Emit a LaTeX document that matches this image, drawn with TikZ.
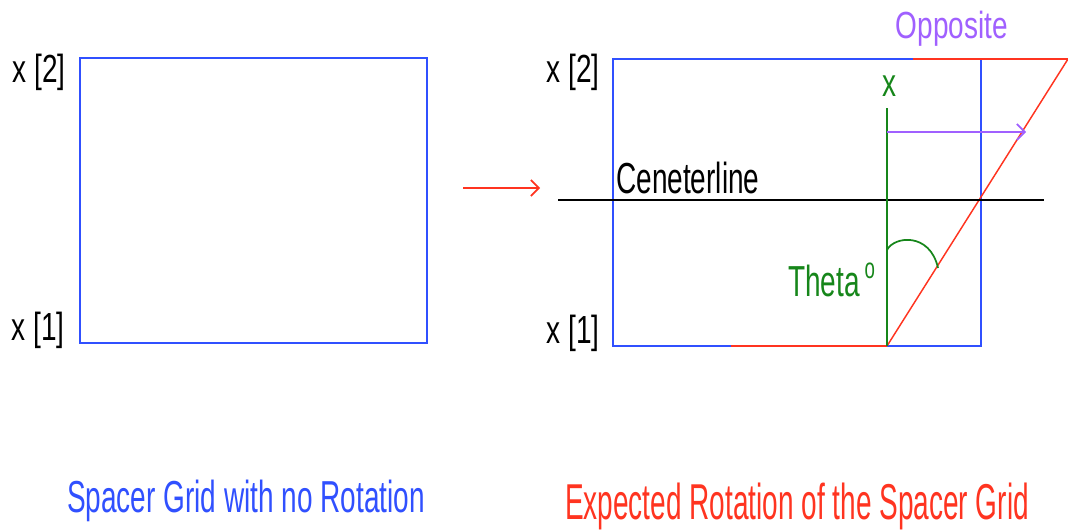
\documentclass[tikz,border=0pt]{standalone}
\usepackage{graphicx}
\usepackage{fontspec}
\setmainfont{Liberation Sans}
\usetikzlibrary{arrows.meta,positioning,calc}
\definecolor{GridBlue}{HTML}{3050FF}
\definecolor{TurnRed}{HTML}{FF3420}
\definecolor{AngleGreen}{HTML}{16861A}
\definecolor{OppPurple}{HTML}{A060FF}
\tikzset{
  gridline/.style={line width=1.5pt, draw=GridBlue},
  turnline/.style={line width=1.5pt, draw=TurnRed},
  barb/.style={-{Straight Barb[length=6pt,width=12pt]}},
  lbl/.style={inner sep=0pt, font=\fontsize{21}{24}\selectfont},
}
\newcommand{\tall}[2][1.5]{\scalebox{1}[#1]{#2}}

\begin{document}
\begin{tikzpicture}[x=0.75pt,y=-0.75pt]
    \useasboundingbox (0,0) rectangle (1068,530);
    % grid before rotation
    \coordinate (a1) at (80,343);
    \coordinate (a2) at (427,58);
    \draw[gridline] (a1) rectangle (a2);
    \node[lbl] (a2lab) at (39,72) {\tall[1.4]{x [2]}};
    \node[lbl] (a1lab) at (38,330) {\tall[1.4]{x [1]}};
    \node[lbl,text=GridBlue] (acap) at (246,501) {\tall[1.6]{Spacer Grid with no Rotation}};

    % arrow between the two
    \coordinate (go1) at (463,188);
    \coordinate (go2) at (540,188);
    \draw[barb,line width=1.2pt,draw=TurnRed] (go1) -- (go2);

    % grid after rotation
    \coordinate (b1) at (613,346);
    \coordinate (b2) at (981,59);
    \coordinate (rb1) at (731,346);
    \coordinate (foot) at (887,346);
    \coordinate (rt1) at (913,59);
    \coordinate (rt2) at (1068,59);
    \draw[gridline] (b1) rectangle (b2);
    \draw[turnline] (rb1) -- (foot);
    \draw[turnline] (rt1) -- (rt2);
    \draw[line width=1.1pt,draw=TurnRed] (foot) -- (rt2);
    \node[lbl] (b2lab) at (573,72) {\tall[1.4]{x [2]}};
    \node[lbl] (b1lab) at (573,333) {\tall[1.4]{x [1]}};

    % centre line
    \coordinate (c1) at (558,200);
    \coordinate (c2) at (1044,200);
    \draw[line width=1.3pt] (c1) -- (c2);
    \node[lbl,anchor=south west] (clab) at (616,194) {\tall[1.55]{Ceneterline}};

    % axis and angle
    \coordinate (top) at (887,108);
    \coordinate (arcs) at (887,250);
    \coordinate (arce) at (938,268);
    \draw[line width=1.3pt,draw=AngleGreen] (foot) -- (top);
    \node[lbl,text=AngleGreen] (xlab) at (889,86) {\tall[1.4]{x}};
    \draw[line width=1.3pt,draw=AngleGreen] (arcs) .. controls (894,236) and (930,232) .. (arce);
    \node[lbl,text=AngleGreen,anchor=west] (theta) at (788,280) {\tall[1.55]{Theta\,\raisebox{0.75ex}{\fontsize{14}{15}\selectfont o}}};

    % opposite
    \coordinate (opp0) at (887,132);
    \coordinate (opp) at (1026,132);
    \draw[barb,line width=1.3pt,draw=OppPurple] (opp0) -- (opp);
    \node[lbl,text=OppPurple] (opplab) at (952,29) {\tall[1.35]{Opposite}};

    \node[lbl,text=TurnRed] (bcap) at (797,506) {\tall[1.8]{Expected Rotation of the Spacer Grid}};
  \end{tikzpicture}
\end{document}
